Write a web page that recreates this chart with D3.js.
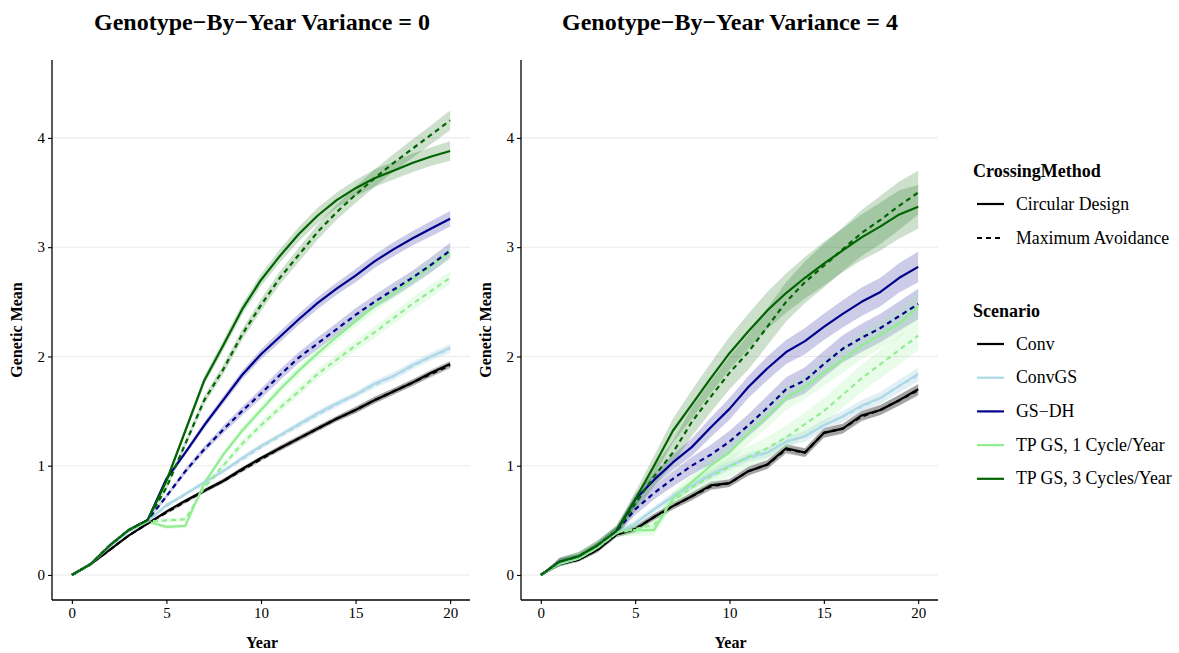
<!DOCTYPE html>
<html>
<head>
<meta charset="utf-8">
<script src="https://cdn.jsdelivr.net/npm/d3@7"></script>
<style>
  body { margin: 0; background: #fff; }
  svg text { font-family: "Liberation Serif", "Times New Roman", serif; }
</style>
</head>
<body>
<script>
// years on the x axis
var years = [0,1,2,3,4,5,6,7,8,9,10,11,12,13,14,15,16,17,18,19,20]

var scenarios = ['Conv', 'ConvGS', 'GS\u2212DH', 'TP GS, 1 Cycle/Year', 'TP GS, 3 Cycles/Year']
var scenarioColors = ['#000000', '#add8e6', '#00008b', '#90ee90', '#006400']
var methods = ['Circular Design', 'Maximum Avoidance']
var panelTitles = ['Genotype\u2212By\u2212Year Variance = 0', 'Genotype\u2212By\u2212Year Variance = 4']
var yTicks = [0, 1, 2, 3, 4]
var xTicks = [0, 5, 10, 15, 20]

// GxY variance = 0 : means, circular design (cd) and maximum avoidance (ma)
var v0_conv_cd   = [0,.1,.23,.36,.47,.58,.68,.77,.86,.97,1.07,1.16,1.25,1.34,1.43,1.51,1.6,1.68,1.76,1.85,1.93]
var v0_conv_ma   = [0,.1,.23,.36,.47,.57,.67,.77,.86,.96,1.06,1.16,1.25,1.34,1.43,1.51,1.6,1.68,1.76,1.84,1.92]
var v0_convgs_cd = [0,.1,.26,.4,.49,.64,.74,.85,.95,1.07,1.18,1.28,1.38,1.48,1.57,1.65,1.75,1.82,1.92,2.0,2.08]
var v0_convgs_ma = [0,.1,.26,.4,.49,.63,.74,.84,.95,1.06,1.17,1.27,1.37,1.47,1.56,1.65,1.74,1.82,1.91,2.0,2.07]
var v0_gsdh_cd   = [0,.1,.27,.41,.5,.88,1.12,1.37,1.6,1.83,2.02,2.18,2.34,2.49,2.62,2.74,2.87,2.98,3.08,3.17,3.26]
var v0_gsdh_ma   = [0,.1,.27,.41,.5,.72,.95,1.15,1.33,1.5,1.66,1.83,1.99,2.12,2.25,2.38,2.5,2.61,2.72,2.84,2.97]
var v0_tp1_cd    = [0,.1,.27,.41,.49,.44,.45,.84,1.1,1.32,1.51,1.7,1.87,2.03,2.18,2.32,2.46,2.58,2.7,2.83,2.95]
var v0_tp1_ma    = [0,.1,.27,.41,.49,.5,.51,.8,1.0,1.2,1.37,1.53,1.68,1.84,1.97,2.1,2.22,2.35,2.48,2.6,2.72]
var v0_tp3_cd    = [0,.1,.27,.41,.5,.86,1.32,1.78,2.1,2.43,2.7,2.92,3.12,3.29,3.43,3.54,3.63,3.7,3.77,3.83,3.88]
var v0_tp3_ma    = [0,.1,.27,.41,.5,.8,1.2,1.6,1.88,2.2,2.47,2.72,2.93,3.14,3.32,3.48,3.63,3.77,3.9,4.03,4.16]

// GxY variance = 4
var v4_conv_cd   = [0,.1,.14,.23,.37,.42,.53,.63,.72,.82,.84,.95,1.01,1.16,1.12,1.3,1.34,1.46,1.51,1.6,1.7]
var v4_conv_ma   = [0,.1,.14,.23,.37,.42,.53,.63,.72,.81,.84,.95,1.01,1.15,1.12,1.3,1.34,1.45,1.51,1.6,1.69]
var v4_convgs_cd = [0,.1,.15,.25,.38,.47,.6,.72,.82,.92,1.0,1.08,1.12,1.22,1.27,1.37,1.45,1.55,1.62,1.73,1.84]
var v4_convgs_ma = [0,.1,.15,.25,.38,.47,.6,.72,.82,.91,1.0,1.07,1.12,1.22,1.27,1.37,1.45,1.54,1.62,1.73,1.83]
var v4_gsdh_cd   = [0,.12,.16,.26,.4,.69,.87,1.03,1.17,1.35,1.52,1.72,1.89,2.04,2.14,2.27,2.39,2.5,2.59,2.72,2.82]
var v4_gsdh_ma   = [0,.12,.16,.26,.4,.6,.75,.88,1.0,1.1,1.22,1.37,1.53,1.7,1.78,1.93,2.07,2.17,2.26,2.37,2.48]
var v4_tp1_cd    = [0,.11,.15,.25,.39,.41,.41,.7,.85,1.0,1.12,1.3,1.45,1.62,1.72,1.85,1.97,2.1,2.2,2.3,2.46]
var v4_tp1_ma    = [0,.11,.15,.25,.39,.42,.46,.68,.8,.9,.99,1.08,1.16,1.26,1.38,1.5,1.65,1.8,1.93,2.06,2.19]
var v4_tp3_cd    = [0,.12,.17,.27,.4,.69,1.0,1.32,1.56,1.8,2.03,2.23,2.42,2.58,2.72,2.85,2.97,3.09,3.19,3.3,3.37]
var v4_tp3_ma    = [0,.12,.17,.27,.4,.65,.9,1.12,1.4,1.63,1.85,2.04,2.27,2.5,2.68,2.83,2.98,3.13,3.25,3.38,3.5]

// ribbon half widths, one per scenario and panel
var v0_conv_hw   = [0,.01,.01,.01,.01,.015,.015,.02,.02,.02,.02,.025,.025,.025,.025,.03,.03,.03,.03,.03,.03]
var v0_convgs_hw = [0,.01,.01,.01,.015,.015,.02,.02,.02,.025,.025,.025,.03,.03,.03,.03,.035,.035,.035,.035,.04]
var v0_gsdh_hw   = [0,.01,.01,.015,.015,.02,.025,.03,.035,.04,.045,.05,.05,.055,.055,.06,.06,.065,.065,.07,.07]
var v0_tp1_hw    = [0,.01,.01,.015,.015,.02,.02,.025,.03,.035,.04,.04,.045,.045,.05,.05,.055,.055,.06,.06,.06]
var v0_tp3_hw    = [0,.01,.01,.015,.015,.025,.03,.04,.045,.05,.055,.06,.065,.07,.07,.075,.08,.08,.085,.085,.09]

var v4_conv_hw   = [0,.02,.02,.025,.025,.03,.03,.03,.035,.035,.035,.04,.04,.04,.04,.045,.045,.045,.045,.05,.05]
var v4_convgs_hw = [0,.02,.02,.025,.025,.03,.03,.035,.035,.04,.04,.04,.045,.045,.05,.05,.05,.055,.055,.06,.06]
var v4_gsdh_hw   = [0,.03,.03,.035,.04,.05,.06,.07,.08,.09,.1,.1,.11,.11,.12,.12,.125,.13,.13,.135,.14]
var v4_tp1_hw    = [0,.03,.03,.035,.04,.05,.05,.06,.07,.08,.09,.1,.1,.11,.11,.12,.12,.125,.13,.13,.13]
var v4_tp3_hw    = [0,.04,.04,.045,.05,.07,.09,.11,.13,.14,.15,.16,.17,.18,.19,.2,.2,.21,.22,.22,.2]

var panels = [
  {
    title: panelTitles[0],
    means: [[v0_conv_cd, v0_conv_ma], [v0_convgs_cd, v0_convgs_ma], [v0_gsdh_cd, v0_gsdh_ma],
            [v0_tp1_cd, v0_tp1_ma], [v0_tp3_cd, v0_tp3_ma]],
    hw: [v0_conv_hw, v0_convgs_hw, v0_gsdh_hw, v0_tp1_hw, v0_tp3_hw],
    left: 52, right: 470, titleX: 262, yTitleX: 22
  },
  {
    title: panelTitles[1],
    means: [[v4_conv_cd, v4_conv_ma], [v4_convgs_cd, v4_convgs_ma], [v4_gsdh_cd, v4_gsdh_ma],
            [v4_tp1_cd, v4_tp1_ma], [v4_tp3_cd, v4_tp3_ma]],
    hw: [v4_conv_hw, v4_convgs_hw, v4_gsdh_hw, v4_tp1_hw, v4_tp3_hw],
    left: 521, right: 938, titleX: 730, yTitleX: 491
  }
]

var width = 1179, height = 653
var plotTop = 60, plotBottom = 600
var dash = '5,4'

var svg = d3.select('body').append('svg').
  attr('width', width).
  attr('height', height)

svg.append('rect').attr('width', width).attr('height', height).attr('fill', '#fff')

var y = d3.scaleLinear().domain([-0.229, 4.713]).range([plotBottom, plotTop])

panels.forEach(function (p) {
  var x = d3.scaleLinear().domain([-1.05, 21.05]).range([p.left, p.right])
  var g = svg.append('g')

  // grid
  g.selectAll('line.grid').data(yTicks).enter().append('line').
    attr('x1', p.left).attr('x2', p.right).
    attr('y1', function (d) { return y(d) }).attr('y2', function (d) { return y(d) }).
    attr('stroke', '#ebebeb').attr('stroke-width', 1.1)

  var area = d3.area().
    x(function (d) { return x(d.x) }).
    y0(function (d) { return y(d.lo) }).
    y1(function (d) { return y(d.hi) })
  var line = d3.line().
    x(function (d) { return x(d.x) }).
    y(function (d) { return y(d.v) })

  // ribbons first
  p.means.forEach(function (pair, si) {
    pair.forEach(function (vals) {
      var pts = years.map(function (yr, i) {
        return { x: yr, lo: vals[i] - p.hw[si][i], hi: vals[i] + p.hw[si][i] }
      })
      g.append('path').datum(pts).attr('d', area).
        attr('fill', scenarioColors[si]).attr('fill-opacity', 0.2)
    })
  })

  // lines
  methods.forEach(function (m, mi) {
    p.means.forEach(function (pair, si) {
      var pts = years.map(function (yr, i) { return { x: yr, v: pair[mi][i] } })
      g.append('path').datum(pts).attr('d', line).
        attr('fill', 'none').
        attr('stroke', scenarioColors[si]).
        attr('stroke-width', 2.2).
        attr('stroke-linejoin', 'round').
        attr('stroke-dasharray', mi === 1 ? dash : null)
    })
  })

  // axes
  var xAxis = d3.axisBottom(x).tickValues(xTicks).tickSize(4).tickPadding(3)
  var yAxis = d3.axisLeft(y).tickValues(yTicks).tickFormat(d3.format('d')).tickSize(4).tickPadding(3)

  var gx = g.append('g').attr('transform', 'translate(0,' + plotBottom + ')').call(xAxis)
  var gy = g.append('g').attr('transform', 'translate(' + p.left + ',0)').call(yAxis)
  ;[gx, gy].forEach(function (a) {
    a.select('.domain').remove()
    a.selectAll('line').attr('stroke', '#000').attr('stroke-width', 1.1)
    a.selectAll('text').attr('fill', '#000').
      style('font-family', '"Liberation Serif", serif').style('font-size', '15px')
  })
  g.append('line').attr('x1', p.left).attr('x2', p.right).attr('y1', plotBottom).attr('y2', plotBottom).
    attr('stroke', '#000').attr('stroke-width', 1.3)
  g.append('line').attr('x1', p.left).attr('x2', p.left).attr('y1', plotTop).attr('y2', plotBottom).
    attr('stroke', '#000').attr('stroke-width', 1.3)

  // titles
  g.append('text').attr('x', p.titleX).attr('y', 30).attr('text-anchor', 'middle').
    attr('font-weight', 'bold').attr('font-size', 24).text(p.title)
  g.append('text').attr('x', (p.left + p.right) / 2 + 1).attr('y', 648).
    attr('text-anchor', 'middle').attr('font-weight', 'bold').attr('font-size', 16).text('Year')
  g.append('text').attr('transform', 'translate(' + p.yTitleX + ',' + ((plotTop + plotBottom) / 2) + ') rotate(-90)').
    attr('text-anchor', 'middle').attr('font-weight', 'bold').attr('font-size', 16).text('Genetic Mean')
})

// legend
var leg = svg.append('g')
leg.append('text').attr('x', 973).attr('y', 177).attr('font-weight', 'bold').attr('font-size', 18).
  text('CrossingMethod')
methods.forEach(function (m, i) {
  var cy = 204 + i * 34
  leg.append('line').attr('x1', 977).attr('x2', 1004).attr('y1', cy).attr('y2', cy).
    attr('stroke', '#000').attr('stroke-width', 2.2).
    attr('stroke-dasharray', i === 1 ? dash : null)
  leg.append('text').attr('x', 1016).attr('y', cy + 5.5).attr('font-size', 17.8).text(m)
})
leg.append('text').attr('x', 973).attr('y', 317).attr('font-weight', 'bold').attr('font-size', 18).
  text('Scenario')
scenarios.forEach(function (s, i) {
  var cy = 344 + i * 33.7
  leg.append('line').attr('x1', 977).attr('x2', 1004).attr('y1', cy).attr('y2', cy).
    attr('stroke', scenarioColors[i]).attr('stroke-width', 2.2)
  leg.append('text').attr('x', 1016).attr('y', cy + 5.5).attr('font-size', 17.8).text(s)
})
</script>
</body>
</html>
